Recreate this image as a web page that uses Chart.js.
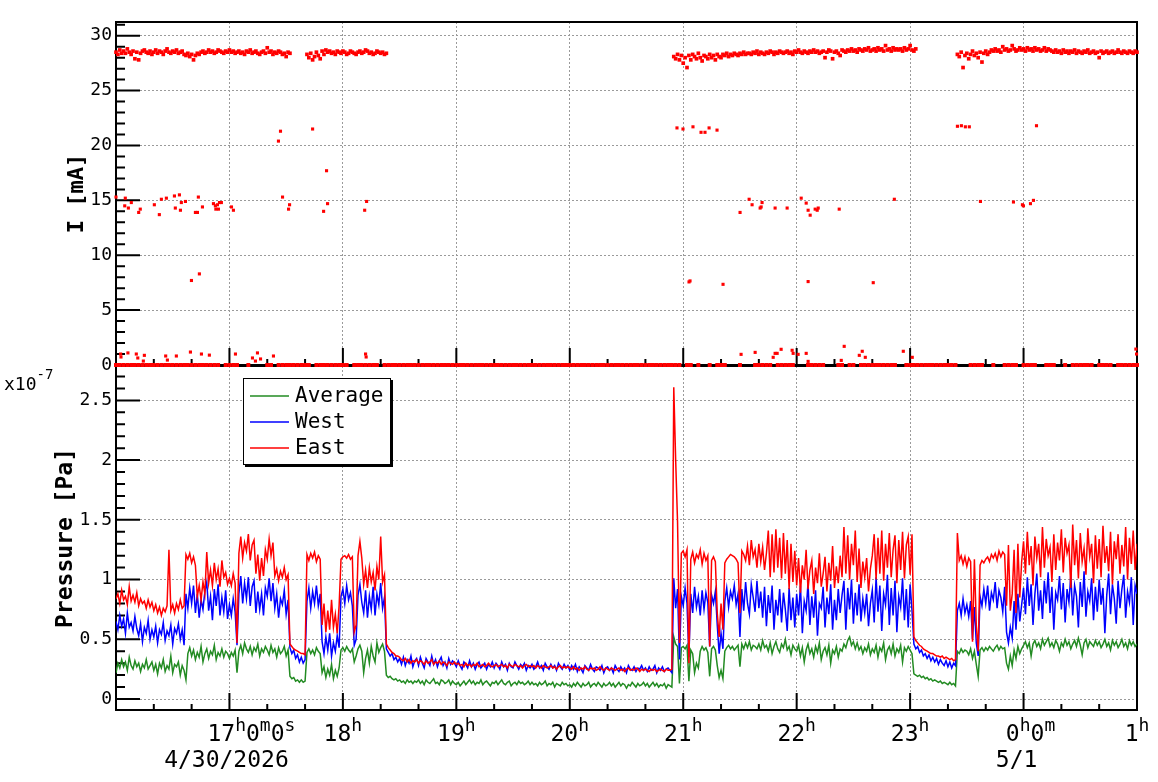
<!DOCTYPE html>
<html>
<head>
<meta charset="utf-8">
<script src="https://cdn.jsdelivr.net/npm/chart.js@4.4.0/dist/chart.umd.min.js"></script>
<style>
  body { margin: 0; background: #fff; }
  #wrap { position: relative; width: 1158px; height: 782px; }
  #wrap canvas { position: absolute; left: 0; top: 0; }
  #pressureChart { z-index: 1; }
  #currentChart { z-index: 2; }
</style>
</head>
<body>
<div id="wrap">
  <canvas id="pressureChart" width="1158" height="782"></canvas>
  <canvas id="currentChart" width="1158" height="782"></canvas>
</div>
<script>
const MONO = "'DejaVu Sans Mono', monospace";
Chart.defaults.font.family = MONO;

// Axis ticks and labels
const hourTicks = [16, 17, 18, 19, 20, 21, 22, 23, 24, 25];
const hourLabels = {
    17: [['17', 'h'], ['0', 'm'], ['0', 's']],
    18: [['18', 'h']], 19: [['19', 'h']], 20: [['20', 'h']], 21: [['21', 'h']],
    22: [['22', 'h']], 23: [['23', 'h']],
    24: [['0', 'h'], ['0', 'm']],
    25: [['1', 'h']]
};
const dateLabels = { 17: '4/30/2026', 24: '5/1' };
const currentTicks = [0, 5, 10, 15, 20, 25, 30];
const pressureTicks = [0, 0.5, 1, 1.5, 2, 2.5];

// Current [mA], main channel, one reading per minute, per beam segment
const band1Start = 0;     // minutes after 16:00
const band1 = [
28.5,28.3,28.7,28.4,28.6,28.4,28.8,28.5,28.3,28.6,27.9,28.5,27.8,28.4,28.6,28.7,28.5,28.4,28.6,28.3,
28.5,28.7,28.4,28.6,28.5,28.3,28.6,28.8,28.5,28.4,28.6,28.5,28.7,28.4,28.5,28.6,28.3,28.2,28.4,28.1,
28.3,27.8,28.2,28.4,28.3,28.5,28.6,28.4,28.5,28.7,28.5,28.6,28.4,28.5,28.7,28.6,28.5,28.4,28.6,28.5,
28.7,28.5,28.6,28.4,28.5,28.6,28.4,28.5,28.3,28.6,28.5,28.7,28.4,28.5,28.6,28.4,28.3,28.5,28.6,28.4,
28.9,28.5,28.6,28.3,28.5,28.4,28.6,28.5,28.3,28.4,28.1,28.5,28.4
];
const band2Start = 101;
const band2 = [
28.3,28.0,28.4,27.8,28.1,28.5,28.2,27.9,28.6,28.3,28.7,28.5,28.6,28.4,28.5,28.3,28.6,28.5,28.4,28.6,
28.5,28.3,28.4,28.6,28.5,28.4,28.3,28.5,28.6,28.4,28.5,28.7,28.6,28.4,28.5,28.3,28.4,28.6,28.5,28.4,
28.5,28.3,28.4
];
const band3Start = 295;
const band3 = [
28.1,27.9,28.3,27.8,28.2,27.5,28.0,27.1,28.2,27.8,28.3,28.1,27.9,28.4,28.0,27.7,28.2,28.1,27.9,28.3,
28.0,28.2,27.8,28.3,28.1,28.0,28.3,28.2,28.4,28.1,28.3,28.2,28.4,28.3,28.2,28.4,28.3,28.5,28.3,28.4,
28.4,28.3,28.5,28.4,28.6,28.3,28.5,28.4,28.3,28.5,28.4,28.6,28.5,28.3,28.5,28.4,28.6,28.5,28.4,28.5,
28.6,28.4,28.5,28.3,28.6,28.5,28.7,28.5,28.4,28.6,28.5,28.4,28.6,28.5,28.7,28.5,28.6,28.4,28.5,28.6,
28.0,28.5,28.7,28.6,27.9,28.5,28.6,28.4,28.2,28.7,28.6,28.5,28.7,28.6,28.8,28.6,28.7,28.5,28.8,28.7,
28.6,28.8,28.7,28.9,28.6,28.7,28.8,28.6,28.9,28.7,28.8,28.6,29.1,28.7,28.8,28.6,28.9,28.7,28.8,28.7,
28.8,28.6,28.9,28.7,28.8,29.1,28.7,28.6,28.8
];
const band4Start = 445;
const band4 = [
28.3,28.1,28.5,27.1,28.2,28.4,27.9,28.3,28.6,28.2,28.4,28.0,28.5,27.6,28.4,28.6,28.3,28.5,28.7,28.6,
28.8,28.6,28.7,28.5,29.0,28.7,28.8,28.6,28.7,29.1,28.8,28.6,28.7,28.9,28.7,28.8,28.6,28.9,28.7,28.8,
28.6,28.9,28.7,28.8,28.6,28.7,28.9,28.6,28.8,28.7,28.6,28.5,28.7,28.5,28.6,28.4,28.7,28.5,28.6,28.4,
28.6,28.5,28.7,28.4,28.6,28.5,28.4,28.6,28.5,28.7,28.4,28.5,28.6,28.4,28.5,28.0,28.6,28.4,28.5,28.6,
28.4,28.5,28.6,28.4,28.5,28.7,28.5,28.4,28.6,28.5,28.4,28.6,28.5,28.4,28.6,28.5
];

// Current [mA], second channel sitting at zero, one reading every 2 minutes
const zeroLine = [
0,0,0,0,0,0,0,0,0,0,0,0,0,0,0,0,0,0,0,0,0,0,0,0,0,0,0,0,null,0,
0,0,0,null,null,0,null,null,null,null,0,0,null,0,0,0,0,0,0,0,0,0,null,0,0,0,0,0,0,0,
0,0,null,0,0,0,0,0,0,0,null,0,0,0,0,0,0,0,0,0,0,0,0,0,0,0,0,0,0,0,
0,0,0,0,0,0,0,0,0,0,0,0,0,0,0,0,0,0,0,0,0,0,0,0,0,0,0,0,0,0,
0,0,0,0,0,0,0,0,0,0,0,0,0,0,0,0,0,0,0,0,0,0,0,0,0,0,0,0,0,0,
null,0,0,null,0,null,null,0,null,0,0,0,null,null,null,0,null,null,null,0,0,0,0,0,null,0,0,0,0,0,
null,null,null,0,0,0,0,0,null,null,null,0,0,null,0,0,null,0,0,0,0,0,0,0,0,0,0,null,null,0,
0,0,0,0,0,0,0,0,0,0,0,0,0,null,null,null,0,0,0,0,null,null,0,null,null,0,0,0,0,null,
0,0,0,0,null,null,0,0,0,null,null,0,null,0,0,0,0,0,0,null,0,0,0,0,null,0,0,0,0,0,0
];

// Stray current readings: time (hour of day, past 24 = next day) and value [mA]
const spikeTimes = [
16.000,16.041,16.044,16.082,16.077,16.109,16.105,16.135,16.179,16.192,16.200,16.214,16.250,16.241,16.338,16.382,16.400,16.444,16.438,16.453,
16.515,16.523,16.532,16.559,16.568,16.576,16.612,16.656,16.665,16.700,16.718,16.726,16.735,16.753,16.762,16.823,16.859,16.876,16.894,16.912,
16.929,16.880,16.903,17.018,17.035,17.053,17.203,17.229,17.247,17.274,17.388,17.432,17.450,17.468,17.521,17.530,17.733,17.830,17.856,17.865,
18.192,18.209,18.200,18.205,
20.945,20.998,21.086,21.157,21.192,21.228,21.298,21.051,21.060,21.351,21.501,21.581,21.607,21.678,21.687,21.695,21.810,21.916,22.040,22.084,
22.101,22.119,22.163,22.181,22.190,22.375,22.861,22.101,22.675,
21.510,21.634,21.793,21.810,21.828,21.863,21.960,21.969,22.013,22.084,22.101,22.419,22.393,22.552,22.578,22.605,
23.417,23.452,23.487,23.522,24.114,23.620,23.911,23.990,23.999,24.061,24.087,22.940,23.019,24.996,24.990
];
const spikeCurrents = [
15.3,1.0,0.73,15.2,14.5,14.3,1.1,14.8,1.0,0.64,13.9,14.2,0.88,0.36,14.6,13.7,15.1,15.2,0.82,0.45,
15.4,14.3,0.82,15.5,14.1,14.8,14.9,1.18,7.7,13.9,13.9,15.3,8.3,1.0,14.4,0.9,14.7,14.5,14.6,14.8,
14.8,14.2,14.2,14.4,14.1,1.0,0.64,0.36,1.1,0.55,0.82,20.4,21.3,15.3,14.2,14.6,21.5,14.0,17.7,14.7,
14.1,14.9,1.0,0.73,
21.6,21.5,21.7,21.2,21.2,21.6,21.4,7.57,7.66,7.35,13.9,15.1,14.6,14.3,14.4,14.8,14.3,14.3,15.2,14.75,
14.1,13.65,14.2,14.1,14.3,14.2,15.1,7.6,7.5,
0.97,1.15,0.7,1.06,1.06,1.43,1.34,1.06,0.97,1.06,0.33,1.7,0.42,0.88,1.25,0.7,
21.75,21.8,21.7,21.7,21.8,14.9,14.85,14.6,14.5,14.7,15.0,1.25,0.7,1.0,1.45
];

// Pressure [1e-7 Pa], one reading per minute from 16:00 to 01:00
const eastPressure = [
0.84,0.88,0.80,0.91,0.83,0.86,0.79,0.94,0.82,0.87,0.81,0.89,0.78,0.84,0.80,0.82,0.76,0.83,0.77,0.81,
0.74,0.79,0.72,0.77,0.70,0.76,0.73,0.78,1.25,0.74,0.79,0.72,0.80,0.75,0.83,0.76,0.78,1.21,1.17,1.22,
1.14,1.19,1.12,0.86,0.95,0.83,0.98,0.88,1.23,0.97,1.08,0.95,1.14,1.00,1.09,0.94,1.16,1.02,1.06,0.96,
1.01,0.95,1.05,0.97,0.47,1.22,1.36,1.18,1.31,1.24,1.38,1.16,1.29,1.33,1.05,1.21,0.99,1.18,1.03,1.25,
1.17,1.34,1.20,1.31,1.03,1.09,0.99,1.07,1.02,1.10,1.00,1.04,0.46,0.44,0.42,0.41,0.40,0.39,0.38,0.38,
0.37,1.21,1.16,1.22,1.18,1.23,1.15,1.20,1.17,0.62,0.80,0.56,0.74,0.58,0.83,0.60,0.71,0.55,0.78,1.17,
1.19,1.20,1.18,1.21,1.17,1.19,0.56,0.62,1.20,1.32,1.18,0.96,1.08,0.93,1.10,0.98,1.06,0.91,1.11,1.00,
1.36,0.98,1.04,0.46,0.43,0.41,0.39,0.38,0.36,0.36,0.35,0.33,0.32,0.34,0.31,0.33,0.30,0.32,0.31,0.33,
0.30,0.32,0.31,0.29,0.32,0.30,0.31,0.33,0.29,0.31,0.30,0.32,0.29,0.31,0.30,0.28,0.31,0.30,0.29,0.31,
0.29,0.30,0.28,0.29,0.27,0.30,0.28,0.29,0.27,0.29,0.28,0.30,0.27,0.28,0.29,0.27,0.28,0.30,0.28,0.27,
0.28,0.29,0.27,0.28,0.29,0.27,0.28,0.26,0.29,0.28,0.27,0.29,0.28,0.27,0.28,0.26,0.28,0.29,0.27,0.28,
0.27,0.28,0.26,0.28,0.27,0.26,0.28,0.27,0.26,0.27,0.28,0.26,0.27,0.25,0.27,0.28,0.26,0.27,0.26,0.27,
0.26,0.25,0.27,0.25,0.26,0.24,0.26,0.25,0.27,0.25,0.24,0.26,0.25,0.26,0.24,0.25,0.27,0.25,0.24,0.26,
0.25,0.24,0.26,0.25,0.24,0.25,0.26,0.24,0.25,0.23,0.25,0.26,0.24,0.25,0.24,0.26,0.25,0.23,0.25,0.24,
0.25,0.24,0.23,0.25,0.24,0.25,0.23,0.24,0.25,0.24,0.23,0.25,0.24,0.24,0.25,2.61,2.00,1.48,0.47,1.22,
1.24,1.19,1.25,0.30,1.17,1.23,1.14,1.21,1.18,1.25,1.13,1.22,1.16,1.20,0.44,1.16,1.19,1.15,0.72,0.52,
0.80,0.58,1.14,1.17,1.19,1.21,1.20,1.19,1.17,1.14,0.72,1.24,1.21,1.16,1.28,1.12,1.33,1.19,1.25,1.10,
1.30,1.15,1.27,1.08,1.22,1.41,1.02,1.38,1.06,1.42,1.10,1.35,1.01,1.39,1.05,1.33,0.92,1.30,0.98,1.24,
0.95,1.18,0.89,1.12,1.00,1.25,0.92,1.08,1.16,0.88,1.10,0.97,1.22,0.94,1.05,1.19,0.90,1.14,0.99,1.28,
0.93,1.11,0.97,1.20,1.02,1.44,1.05,1.37,1.00,1.30,1.12,1.41,0.98,1.26,0.93,1.15,1.02,1.18,0.90,1.09,
1.20,1.38,1.00,1.35,1.05,1.41,0.99,1.30,1.10,1.39,1.02,1.25,1.37,0.97,1.33,1.08,1.40,1.01,1.29,1.36,
1.04,1.38,0.52,0.49,0.47,0.45,0.44,0.42,0.41,0.40,0.39,0.38,0.38,0.37,0.36,0.36,0.35,0.36,0.34,0.35,
0.34,0.33,0.34,0.32,0.33,1.39,1.16,1.20,1.13,1.19,1.11,1.18,1.15,0.48,1.17,0.62,0.40,1.12,1.16,1.14,
1.17,1.19,1.15,1.21,1.18,1.22,1.16,1.24,1.19,1.23,1.21,0.78,1.29,0.74,0.88,1.25,0.72,1.30,0.85,1.15,
1.32,1.05,1.40,1.12,1.28,0.95,1.36,1.18,1.30,1.02,1.44,1.10,1.34,1.20,1.27,0.98,1.38,1.08,1.31,1.16,
1.42,1.06,1.35,1.22,1.29,0.93,1.46,1.12,1.33,1.01,1.39,1.15,1.26,1.04,1.43,1.19,1.30,0.97,1.37,1.09,
1.34,1.02,1.45,1.14,1.28,1.07,1.40,0.96,1.32,1.17,1.38,1.05,1.29,1.11,1.44,1.00,1.35,1.13,1.41,1.08,
1.30
];
const westPressure = [
0.65,0.58,0.70,0.61,0.67,0.55,0.72,0.60,0.64,0.57,0.69,0.59,0.53,0.63,0.48,0.60,0.55,0.66,0.50,0.58,
0.52,0.61,0.47,0.58,0.54,0.64,0.49,0.57,0.53,0.62,0.46,0.59,0.55,0.63,0.50,0.58,0.45,0.88,0.76,0.93,
0.80,0.95,0.72,0.88,0.68,0.83,0.75,0.90,0.98,0.74,0.86,0.66,0.92,0.78,0.96,0.70,0.85,0.73,0.91,0.67,
0.79,0.70,0.84,0.73,0.45,0.88,1.03,0.80,0.97,0.84,1.02,0.78,0.94,0.99,0.72,0.90,0.75,0.88,0.70,0.93,
0.86,1.01,0.82,0.97,0.76,0.88,0.68,0.84,0.79,0.91,0.71,0.83,0.43,0.38,0.41,0.34,0.37,0.31,0.35,0.30,
0.33,0.82,0.93,0.76,0.90,0.80,0.95,0.78,0.88,0.48,0.38,0.52,0.41,0.55,0.36,0.47,0.40,0.53,0.43,0.86,
0.92,0.80,0.95,0.83,0.89,0.78,0.45,0.50,0.87,0.96,0.81,0.72,0.91,0.68,0.86,0.75,0.94,0.70,0.88,0.79,
0.97,0.76,0.85,0.42,0.39,0.36,0.38,0.33,0.35,0.31,0.34,0.29,0.35,0.28,0.33,0.30,0.36,0.27,0.32,0.34,
0.28,0.35,0.30,0.26,0.34,0.31,0.28,0.36,0.29,0.33,0.27,0.32,0.35,0.28,0.31,0.26,0.34,0.29,0.32,0.30,
0.27,0.32,0.28,0.25,0.31,0.29,0.26,0.32,0.27,0.30,0.25,0.29,0.31,0.26,0.28,0.30,0.25,0.29,0.27,0.31,
0.26,0.30,0.28,0.25,0.31,0.27,0.29,0.24,0.30,0.27,0.26,0.31,0.28,0.25,0.29,0.27,0.30,0.24,0.28,0.26,
0.29,0.25,0.27,0.31,0.26,0.28,0.24,0.30,0.27,0.25,0.29,0.26,0.28,0.24,0.30,0.27,0.25,0.29,0.26,0.28,
0.24,0.28,0.25,0.29,0.23,0.27,0.25,0.22,0.28,0.26,0.24,0.29,0.25,0.23,0.27,0.26,0.24,0.28,0.22,0.26,
0.27,0.24,0.26,0.22,0.28,0.25,0.23,0.27,0.24,0.26,0.22,0.28,0.25,0.24,0.27,0.23,0.26,0.25,0.28,0.24,
0.26,0.23,0.27,0.24,0.25,0.28,0.22,0.26,0.24,0.27,0.23,0.25,0.26,0.24,0.22,1.01,0.76,0.92,0.33,0.86,
0.78,0.93,0.80,0.35,0.88,0.72,0.94,0.77,0.86,0.70,0.91,0.75,0.89,0.81,0.44,0.87,0.80,0.90,0.62,0.38,
0.55,0.42,0.82,0.93,0.77,0.90,0.84,0.95,0.79,0.88,0.52,0.92,0.74,0.98,0.80,0.71,0.96,0.85,0.73,0.99,
0.76,0.90,0.68,0.94,0.61,0.87,0.72,0.95,0.58,0.83,0.70,0.92,0.64,0.89,0.75,0.57,0.93,0.66,0.85,0.60,
0.88,0.70,0.95,0.55,0.82,0.74,0.97,0.62,0.86,0.68,0.91,0.53,0.80,0.76,0.94,0.60,0.85,0.71,0.96,0.58,
0.83,0.66,0.92,0.72,0.87,0.99,0.58,0.93,0.75,1.00,0.63,0.89,0.70,0.96,0.65,0.84,0.72,0.88,0.61,0.80,
0.91,0.64,1.02,0.73,0.95,0.57,0.88,0.79,1.04,0.62,0.93,0.70,0.99,0.56,0.86,0.77,1.01,0.66,0.92,0.60,
0.96,0.74,0.46,0.42,0.44,0.39,0.41,0.36,0.38,0.34,0.37,0.32,0.35,0.31,0.34,0.29,0.33,0.30,0.28,0.32,
0.27,0.31,0.26,0.30,0.28,0.74,0.80,0.70,0.84,0.72,0.79,0.69,0.82,0.50,0.77,0.47,0.36,0.86,0.78,0.92,
0.80,0.95,0.74,0.89,0.83,0.98,0.76,0.91,0.85,0.73,0.94,0.56,0.47,0.60,0.51,0.82,0.58,0.88,0.65,0.79,
0.93,0.71,1.02,0.78,0.96,0.62,0.88,1.05,0.74,0.91,0.67,0.99,0.80,1.06,0.72,0.94,0.58,0.89,0.83,1.03,
0.75,0.97,0.64,0.92,0.81,1.04,0.70,0.95,0.86,0.60,0.98,0.77,1.07,0.69,0.90,0.82,1.01,0.66,0.94,0.73,
1.00,0.79,0.93,0.55,0.87,1.05,0.71,0.96,0.84,0.63,0.99,0.76,0.92,1.04,0.68,0.90,0.81,1.02,0.62,0.95,
0.88
];
const averagePressure = [
0.22,0.30,0.26,0.33,0.27,0.31,0.24,0.35,0.28,0.25,0.32,0.27,0.30,0.23,0.29,0.26,0.33,0.25,0.28,0.31,
0.24,0.29,0.21,0.30,0.26,0.33,0.23,0.28,0.25,0.36,0.22,0.29,0.27,0.31,0.20,0.28,0.24,0.16,0.38,0.43,
0.36,0.41,0.33,0.39,0.35,0.44,0.31,0.38,0.42,0.34,0.40,0.37,0.45,0.33,0.39,0.36,0.42,0.35,0.40,0.38,
0.34,0.39,0.36,0.41,0.22,0.40,0.45,0.38,0.47,0.42,0.39,0.44,0.37,0.43,0.40,0.46,0.36,0.42,0.39,0.44,
0.41,0.37,0.45,0.39,0.42,0.35,0.43,0.38,0.40,0.44,0.36,0.41,0.19,0.17,0.18,0.15,0.16,0.14,0.16,0.14,
0.15,0.39,0.42,0.38,0.41,0.37,0.43,0.40,0.38,0.22,0.27,0.18,0.25,0.20,0.29,0.17,0.24,0.19,0.26,0.41,
0.43,0.40,0.44,0.41,0.39,0.42,0.31,0.36,0.42,0.45,0.40,0.22,0.34,0.41,0.30,0.44,0.36,0.31,0.47,0.39,
0.43,0.46,0.40,0.20,0.18,0.19,0.17,0.16,0.17,0.15,0.16,0.14,0.15,0.13,0.16,0.14,0.15,0.13,0.15,0.14,
0.16,0.13,0.15,0.12,0.16,0.14,0.13,0.15,0.17,0.13,0.14,0.12,0.16,0.15,0.13,0.14,0.16,0.12,0.15,0.13,
0.12,0.14,0.11,0.13,0.15,0.12,0.14,0.16,0.13,0.15,0.12,0.14,0.13,0.16,0.12,0.14,0.15,0.13,0.11,0.14,
0.13,0.15,0.12,0.14,0.16,0.13,0.12,0.14,0.15,0.11,0.13,0.14,0.12,0.15,0.13,0.14,0.12,0.13,0.15,0.12,
0.14,0.12,0.13,0.11,0.14,0.12,0.13,0.15,0.11,0.13,0.12,0.14,0.10,0.13,0.12,0.11,0.14,0.12,0.13,0.11,
0.12,0.10,0.13,0.11,0.14,0.12,0.10,0.13,0.11,0.12,0.14,0.10,0.12,0.13,0.11,0.14,0.12,0.10,0.13,0.11,
0.12,0.14,0.11,0.13,0.10,0.12,0.14,0.11,0.13,0.12,0.09,0.12,0.11,0.14,0.12,0.10,0.13,0.11,0.12,0.14,
0.11,0.13,0.10,0.12,0.14,0.11,0.13,0.10,0.12,0.11,0.13,0.09,0.12,0.11,0.10,0.52,0.46,0.44,0.13,0.43,
0.44,0.42,0.45,0.15,0.41,0.38,0.22,0.30,0.26,0.40,0.44,0.41,0.43,0.39,0.19,0.42,0.44,0.41,0.28,0.18,
0.24,0.17,0.40,0.43,0.45,0.42,0.44,0.41,0.43,0.45,0.27,0.46,0.42,0.47,0.43,0.48,0.41,0.45,0.44,0.42,
0.46,0.41,0.49,0.43,0.45,0.40,0.47,0.38,0.44,0.48,0.42,0.39,0.46,0.43,0.50,0.41,0.44,0.37,0.45,0.42,
0.40,0.45,0.36,0.43,0.31,0.41,0.46,0.38,0.42,0.35,0.44,0.39,0.47,0.33,0.40,0.43,0.37,0.45,0.30,0.41,
0.38,0.44,0.35,0.42,0.40,0.46,0.43,0.49,0.52,0.45,0.48,0.42,0.47,0.41,0.44,0.38,0.43,0.40,0.46,0.37,
0.42,0.39,0.45,0.35,0.43,0.40,0.47,0.33,0.41,0.44,0.38,0.46,0.36,0.42,0.39,0.45,0.31,0.43,0.40,0.44,
0.41,0.38,0.21,0.20,0.19,0.20,0.18,0.19,0.17,0.18,0.16,0.17,0.15,0.16,0.15,0.14,0.15,0.13,0.14,0.13,
0.12,0.14,0.12,0.13,0.11,0.40,0.38,0.42,0.39,0.41,0.40,0.37,0.42,0.34,0.40,0.29,0.19,0.41,0.43,0.40,
0.43,0.41,0.44,0.42,0.40,0.43,0.45,0.41,0.44,0.42,0.43,0.30,0.25,0.36,0.28,0.41,0.34,0.44,0.38,0.42,
0.45,0.48,0.43,0.47,0.36,0.46,0.49,0.44,0.47,0.42,0.50,0.45,0.48,0.51,0.44,0.47,0.43,0.49,0.46,0.40,
0.47,0.44,0.50,0.45,0.48,0.42,0.46,0.49,0.44,0.51,0.45,0.37,0.47,0.50,0.43,0.48,0.46,0.44,0.49,0.45,
0.48,0.43,0.46,0.50,0.44,0.47,0.41,0.49,0.45,0.48,0.43,0.46,0.50,0.44,0.47,0.42,0.49,0.45,0.48,0.44,
0.46
];

// Build {x, y} points: x is the hour of day, samples start at 16:00
const START_HOUR = 16;
const toPoints = (values, startMin, stepMin) =>
    values.map((v, i) => ({ x: START_HOUR + (startMin + i * stepMin) / 60, y: v }));

const bandPoints = [
    ...toPoints(band1, band1Start, 1), ...toPoints(band2, band2Start, 1),
    ...toPoints(band3, band3Start, 1), ...toPoints(band4, band4Start, 1)
];
const zeroPoints = toPoints(zeroLine, 0, 2);
const spikePoints = spikeTimes.map((t, i) => ({ x: t, y: spikeCurrents[i] }));

// Minor tick positions (axis decoration only)
const hourMinor = [];
for (let h = 16; h < 25; h++) hourMinor.push(h + 1 / 3, h + 2 / 3);
const currentMinor = [];
for (let v = 1; v <= 31; v++) if (v % 5) currentMinor.push(v);
const pressureMinor = [];
for (let k = 1; k <= 27; k++) if (k % 5) pressureMinor.push(k / 10);

const gridColor = '#9a9a9a';

function xScale() {
    return {
        type: 'linear', min: 16, max: 25,
        afterBuildTicks: s => { s.ticks = hourTicks.map(v => ({ value: v })); },
        afterFit: s => { s.height = 0; },
        ticks: { display: false },
        grid: { color: gridColor, drawTicks: false },
        border: { display: false, dash: [2, 2] }
    };
}

function yScale(min, max, ticks) {
    return {
        min: min, max: max,
        afterBuildTicks: s => { s.ticks = ticks.map(v => ({ value: v })); },
        afterFit: s => { s.width = 116; },
        ticks: { color: '#000', font: { family: MONO, size: 18 }, padding: 4, callback: v => String(v) },
        grid: { color: gridColor, drawTicks: false },
        border: { display: false, dash: [2, 2] }
    };
}

// ROOT-like frame with inward tick marks
function frameTicks(yMajor, yMinor) {
    return {
        id: 'frameTicks',
        beforeDatasetsDraw(chart) {
            const { ctx, chartArea: a, scales: { x, y } } = chart;
            ctx.save();
            ctx.strokeStyle = '#000';
            ctx.lineWidth = 2;
            ctx.beginPath();
            yMinor.forEach(v => { const p = y.getPixelForValue(v); ctx.moveTo(a.left, p); ctx.lineTo(a.left + 9, p); });
            yMajor.forEach(v => { const p = y.getPixelForValue(v); ctx.moveTo(a.left, p); ctx.lineTo(a.left + 24, p); });
            hourMinor.forEach(v => { const p = x.getPixelForValue(v); ctx.moveTo(p, a.bottom); ctx.lineTo(p, a.bottom - 6); });
            hourTicks.forEach(v => { const p = x.getPixelForValue(v); ctx.moveTo(p, a.bottom); ctx.lineTo(p, a.bottom - 17); });
            ctx.stroke();
            ctx.strokeRect(a.left, a.top, a.right - a.left, a.bottom - a.top);
            ctx.restore();
        }
    };
}

function yTitle(text, size, xPos) {
    return {
        id: 'yTitle',
        afterDraw(chart) {
            const { ctx, chartArea: a } = chart;
            ctx.save();
            ctx.translate(xPos, (a.top + a.bottom) / 2);
            ctx.rotate(-Math.PI / 2);
            ctx.font = `bold ${size}px ${MONO}`;
            ctx.fillStyle = '#000';
            ctx.textAlign = 'center';
            ctx.textBaseline = 'middle';
            ctx.fillText(text, 0, 0);
            ctx.restore();
        }
    };
}

// Time labels with superscript units, date line, exponent and legend
const labelShift = { 17: 22, 24: 7 };
const dateShift = { 17: -3, 24: -7 };
const timeAxisDecor = {
    id: 'timeAxisDecor',
    afterDraw(chart) {
        const { ctx, chartArea: a, scales: { x } } = chart;
        const base = `23px ${MONO}`, sup = `18px ${MONO}`;
        ctx.save();
        ctx.fillStyle = '#000';
        ctx.textBaseline = 'alphabetic';
        hourTicks.forEach(h => {
            const parts = hourLabels[h];
            if (!parts) return;
            let w = 0;
            parts.forEach(([b, s]) => {
                ctx.font = base; w += ctx.measureText(b).width;
                ctx.font = sup; w += ctx.measureText(s).width;
            });
            let px = x.getPixelForValue(h) - w / 2 + (labelShift[h] || 0);
            ctx.textAlign = 'left';
            parts.forEach(([b, s]) => {
                ctx.font = base; ctx.fillText(b, px, a.bottom + 31); px += ctx.measureText(b).width;
                ctx.font = sup; ctx.fillText(s, px, a.bottom + 21); px += ctx.measureText(s).width;
            });
            if (dateLabels[h]) {
                ctx.font = base;
                ctx.textAlign = 'center';
                ctx.fillText(dateLabels[h], x.getPixelForValue(h) + dateShift[h], a.bottom + 57);
            }
        });

        // x10^-7 exponent
        ctx.textAlign = 'left';
        ctx.font = `18px ${MONO}`;
        ctx.fillText('x10', 4, a.top + 24);
        const ew = ctx.measureText('x10').width;
        ctx.font = `14px ${MONO}`;
        ctx.fillText('-7', 4 + ew, a.top + 13);

        // legend box
        const bx = a.left + 127, by = a.top + 12, bw = 148, bh = 87;
        ctx.fillStyle = '#000';
        ctx.fillRect(bx + 2, by + 2, bw, bh);
        ctx.fillStyle = '#fff';
        ctx.fillRect(bx, by, bw, bh);
        ctx.strokeStyle = '#000';
        ctx.lineWidth = 1;
        ctx.strokeRect(bx + 0.5, by + 0.5, bw - 1, bh - 1);
        const order = [2, 1, 0];
        ctx.font = `21px ${MONO}`;
        ctx.textBaseline = 'middle';
        order.forEach((di, row) => {
            const ds = chart.data.datasets[di];
            const ly = by + 18 + row * 26;
            ctx.strokeStyle = ds.borderColor;
            ctx.lineWidth = 1.5;
            ctx.beginPath();
            ctx.moveTo(bx + 7, ly);
            ctx.lineTo(bx + 46, ly);
            ctx.stroke();
            ctx.fillStyle = '#000';
            ctx.fillText(ds.label, bx + 52, ly + 1);
        });
        ctx.restore();
    }
};

// Top panel: beam current
const redDot = { backgroundColor: '#ff0000', pointStyle: 'rect', pointBorderWidth: 0, borderWidth: 0, clip: 4 };
new Chart(document.getElementById('currentChart'), {
    type: 'scatter',
    data: {
        datasets: [
            { label: 'I', data: bandPoints, pointRadius: 2.6, ...redDot },
            { label: 'I0', data: zeroPoints, pointRadius: 2.8, ...redDot },
            { label: 'Ispike', data: spikePoints, pointRadius: 2.2, ...redDot }
        ]
    },
    options: {
        responsive: false, animation: false, devicePixelRatio: 1,
        layout: { padding: { top: 22, right: 21, bottom: 417, left: 0 } },
        plugins: { legend: { display: false }, tooltip: { enabled: false } },
        scales: { x: xScale(), y: yScale(0, 31.25, currentTicks) }
    },
    plugins: [frameTicks(currentTicks, currentMinor), yTitle('I [mA]', 22, 77)]
});

// Bottom panel: vacuum pressure
const pressureLine = (label, values, color) => ({
    label: label,
    data: toPoints(values, 0, 1),
    borderColor: color, borderWidth: 1.5, pointRadius: 0, tension: 0, fill: false
});
new Chart(document.getElementById('pressureChart'), {
    type: 'line',
    data: {
        datasets: [
            pressureLine('East', eastPressure, '#ff0000'),
            pressureLine('West', westPressure, '#0000ff'),
            pressureLine('Average', averagePressure, '#228b22')
        ]
    },
    options: {
        responsive: false, animation: false, devicePixelRatio: 1,
        layout: { padding: { top: 366, right: 21, bottom: 72, left: 0 } },
        plugins: { legend: { display: false }, tooltip: { enabled: false } },
        scales: { x: xScale(), y: yScale(-0.092, 2.788, pressureTicks) }
    },
    plugins: [frameTicks(pressureTicks, pressureMinor), yTitle('Pressure [Pa]', 23, 66), timeAxisDecor]
});
</script>
</body>
</html>
